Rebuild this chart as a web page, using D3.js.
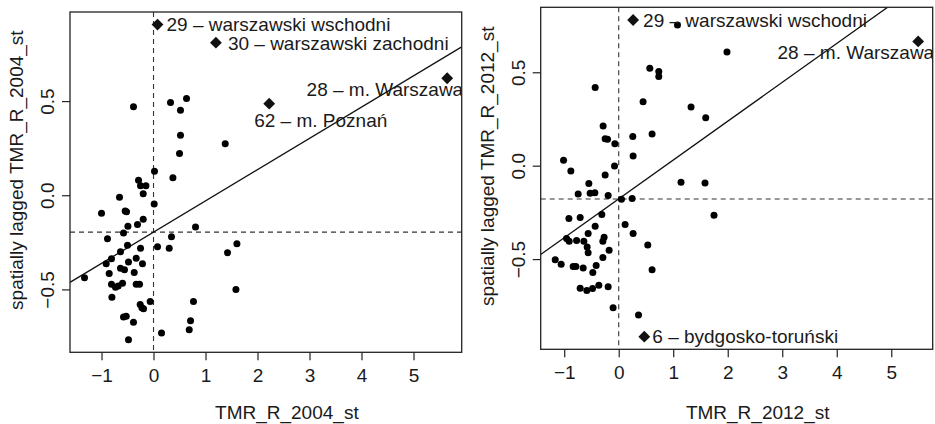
<!DOCTYPE html>
<html><head><meta charset="utf-8">
<script src="https://cdn.jsdelivr.net/npm/d3@7"></script>
<style>
html,body{margin:0;padding:0;background:#fff;}
text{font-family:"Liberation Sans",Arial,Helvetica,sans-serif;fill:#1a1a1a;}
</style></head>
<body><svg id="c" width="935" height="424"></svg>
<script>
// ---- data: panel 2004 ----
const x2004 = [-0.385,0.327,0.635,0.519,0.519,0.500,1.379,0.019,-0.288,-0.25,-0.146,-0.198,0.373,-0.654,0.013,-1.0,-0.545,-0.519,-0.492,-0.308,-0.198,0.808,-0.577,-0.885,0.346,-0.5,-0.25,0.077,0.302,-0.635,-0.808,-0.333,-0.91,-0.481,-0.212,-1.327,-0.635,-0.558,-0.371,-0.852,-0.808,-0.731,-0.679,-0.596,-0.333,-0.269,-0.8,-0.064,-0.256,-0.223,-0.192,0.769,-0.577,-0.525,-0.385,0.712,0.687,0.154,-0.481,1.423,1.604,1.585];
const lag2004 = [0.470,0.493,0.513,0.451,0.319,0.222,0.274,0.128,0.079,0.051,0.051,0.008,0.093,-0.011,-0.047,-0.095,-0.084,-0.087,-0.164,-0.155,-0.128,-0.169,-0.201,-0.231,-0.220,-0.266,-0.281,-0.273,-0.281,-0.300,-0.337,-0.335,-0.364,-0.355,-0.364,-0.438,-0.388,-0.395,-0.410,-0.415,-0.472,-0.488,-0.482,-0.467,-0.472,-0.472,-0.541,-0.564,-0.580,-0.597,-0.603,-0.564,-0.647,-0.643,-0.675,-0.666,-0.714,-0.732,-0.767,-0.305,-0.257,-0.500];
const names2004 = ["29 – warszawski wschodni","30 – warszawski zachodni","28 – m. Warszawa","62 – m. Poznań"];
const namesX2004 = [0.077,1.2,5.648,2.225];
const namesY2004 = [0.906,0.810,0.621,0.486];
const slope2004 = 0.166, meanLag2004 = -0.196;

// ---- data: panel 2012 ----
const x2012 = [1.078,0.570,0.735,0.735,-0.432,0.447,1.327,1.596,-0.286,-0.249,-0.205,-0.071,0.258,0.612,-1.012,-0.878,0.264,-0.077,-0.249,-0.548,1.143,1.583,-0.744,-0.524,-0.438,-0.194,0.051,0.246,1.986,-0.914,-0.707,-0.310,0.117,-0.432,0.264,-0.561,-0.268,-0.291,-0.957,-0.909,-0.773,-0.640,-0.579,-0.561,0.533,-0.176,-1.165,-1.056,-0.291,-0.836,-0.786,-0.652,-0.414,-0.475,0.612,-0.707,-0.585,-0.480,-0.365,-0.194,-0.103,0.363,1.748];
const lag2012 = [0.753,0.522,0.504,0.478,0.418,0.342,0.314,0.256,0.213,0.144,0.142,0.118,0.156,0.170,0.029,-0.028,0.052,-0.002,-0.050,-0.095,-0.089,-0.093,-0.151,-0.148,-0.145,-0.159,-0.179,-0.175,0.608,-0.283,-0.277,-0.261,-0.315,-0.324,-0.363,-0.363,-0.383,-0.405,-0.390,-0.405,-0.401,-0.405,-0.435,-0.466,-0.425,-0.453,-0.503,-0.528,-0.492,-0.539,-0.539,-0.548,-0.534,-0.572,-0.557,-0.656,-0.668,-0.658,-0.640,-0.648,-0.760,-0.799,-0.265];
const names2012 = ["29 – warszawski wschodni","28 – m. Warszawa","6 – bydgosko-toruński"];
const namesX2012 = [0.264,5.494,0.469];
const namesY2012 = [0.780,0.665,-0.915];
const slope2012 = 0.208, meanLag2012 = -0.178;

const xTicks = [-1,0,1,2,3,4,5];
const yTicks = [-0.5,0.0,0.5];
const xTitles = ["TMR_R_2004_st","TMR_R_2012_st"];
const yTitles = ["spatially lagged TMR_R_2004_st","spatially lagged TMR_R_2012_st"];

// ---- layout / style ----
const FS = 19;
const layout = [
  {l:70, t:12, r:461.7, b:352.3, xTitleDx:21, yTitleDy:-12,
   lab:[{dx:9,dy:0,a:"start"},{dx:12,dy:0,a:"start"},{dx:16,dy:11,a:"end"},{dx:-15,dy:16,a:"start"}]},
  {l:540.7, t:7.3, r:932.7, b:349.3, xTitleDx:21, yTitleDy:-12,
   lab:[{dx:10,dy:0,a:"start"},{dx:16,dy:11,a:"end"},{dx:8,dy:0,a:"start"}]}
];
const panels = [
  {x:x2004, y:lag2004, nx:namesX2004, ny:namesY2004, names:names2004, slope:slope2004, mean:meanLag2004},
  {x:x2012, y:lag2012, nx:namesX2012, ny:namesY2012, names:names2012, slope:slope2012, mean:meanLag2012}
];

const svg = d3.select("#c");
const fmtY = d => (d<0?"\u2212":"") + Math.abs(d).toFixed(1);
const fmtX = d => (d<0?"\u2212":"") + Math.abs(d);

panels.forEach((p,i) => {
  const L = layout[i];
  const allX = p.x.concat(p.nx), allY = p.y.concat(p.ny);
  const ext = (arr) => { const [a,b]=d3.extent(arr); const e=(b-a)*0.04; return [a-e,b+e]; };
  const xs = d3.scaleLinear().domain(ext(allX)).range([L.l, L.r]);
  const ys = d3.scaleLinear().domain(ext(allY)).range([L.b, L.t]);
  const g = svg.append("g");
  const clipId = "clip"+i;
  svg.append("clipPath").attr("id",clipId).append("rect")
     .attr("x",L.l).attr("y",L.t).attr("width",L.r-L.l).attr("height",L.b-L.t);
  const pg = g.append("g").attr("clip-path",`url(#${clipId})`);

  // dashed reference lines
  pg.append("line").attr("x1",xs(0)).attr("x2",xs(0)).attr("y1",L.t).attr("y2",L.b)
    .attr("stroke","#333").attr("stroke-width",1.1).attr("stroke-dasharray","5,4");
  pg.append("line").attr("x1",L.l).attr("x2",L.r).attr("y1",ys(p.mean)).attr("y2",ys(p.mean))
    .attr("stroke","#333").attr("stroke-width",1.1).attr("stroke-dasharray","5,4");
  // regression line
  const [d0,d1] = xs.domain();
  pg.append("line").attr("x1",xs(d0)).attr("y1",ys(p.mean+p.slope*d0))
    .attr("x2",xs(d1)).attr("y2",ys(p.mean+p.slope*d1))
    .attr("stroke","#111").attr("stroke-width",1.3);

  // points
  pg.selectAll("circle.pt").data(d3.range(p.x.length)).join("circle")
    .attr("cx",k=>xs(p.x[k])).attr("cy",k=>ys(p.y[k])).attr("r",3.5).attr("fill","#000");
  // diamonds
  pg.selectAll("path.dm").data(d3.range(p.nx.length)).join("path")
    .attr("d",d3.symbol().type(d3.symbolSquare).size(70))
    .attr("transform",k=>`translate(${xs(p.nx[k])},${ys(p.ny[k])}) rotate(45)`)
    .attr("fill","#111");
  pg.selectAll("text.lab").data(d3.range(p.nx.length)).join("text")
    .attr("x",k=>xs(p.nx[k])+L.lab[k].dx).attr("y",k=>ys(p.ny[k])+L.lab[k].dy)
    .attr("dy","0.36em").attr("text-anchor",k=>L.lab[k].a)
    .style("font-size",FS+"px").text(k=>p.names[k]);

  // box
  g.append("rect").attr("x",L.l).attr("y",L.t).attr("width",L.r-L.l).attr("height",L.b-L.t)
    .attr("fill","none").attr("stroke","#222").attr("stroke-width",1.3);

  // x axis
  const xa = g.append("g").attr("transform",`translate(0,${L.b})`)
    .call(d3.axisBottom(xs).tickValues(xTicks).tickSize(8).tickPadding(8).tickFormat(fmtX));
  xa.select(".domain").remove();
  xa.selectAll("line").attr("stroke","#222").attr("stroke-width",1.2);
  xa.selectAll("text").style("font-size",FS+"px").attr("fill","#1a1a1a");
  // y axis
  const ya = g.append("g").attr("transform",`translate(${L.l},0)`)
    .call(d3.axisLeft(ys).tickValues(yTicks).tickSize(8).tickFormat(fmtY));
  ya.select(".domain").remove();
  ya.selectAll("line").attr("stroke","#222").attr("stroke-width",1.2);
  ya.selectAll("text").style("font-size",FS+"px").attr("fill","#1a1a1a")
    .attr("x",null).attr("dy",null).attr("text-anchor","middle")
    .attr("transform","translate(-23,0) rotate(-90)").attr("y",0).attr("dy","0.36em");

  // titles
  g.append("text").attr("x",(L.l+L.r)/2+L.xTitleDx).attr("y",419)
    .attr("text-anchor","middle").style("font-size",FS+"px").text(xTitles[i]);
  g.append("text").attr("transform",`translate(${L.l-47},${(L.t+L.b)/2+L.yTitleDy}) rotate(-90)`)
    .attr("text-anchor","middle").style("font-size",FS+"px").text(yTitles[i]);
});
</script></body></html>
